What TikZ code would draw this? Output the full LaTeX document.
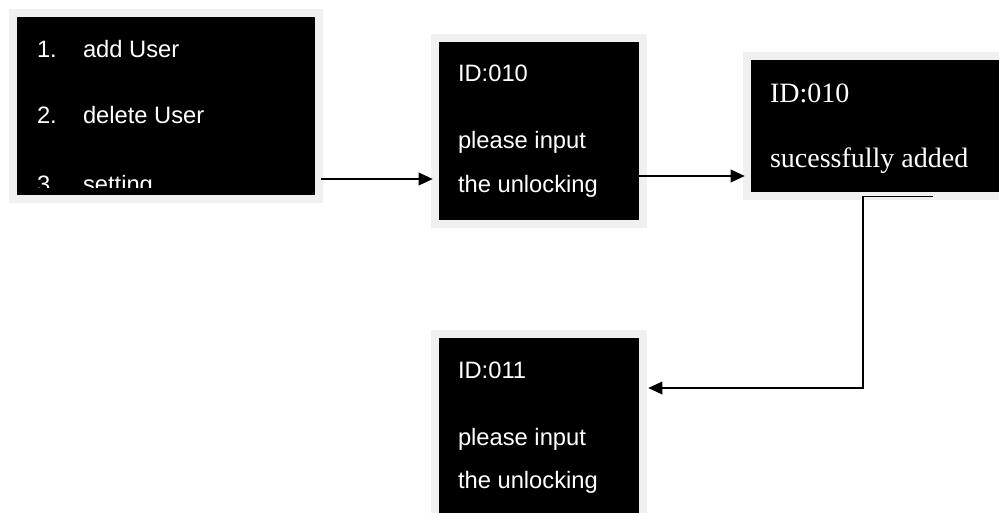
\documentclass[tikz,border=0pt]{standalone}
\usepackage{fontspec}
\newfontfamily\screensans{Liberation Sans}
\newfontfamily\screenserif{Liberation Serif}
\usepackage{xcolor}
\definecolor{framegray}{RGB}{240, 240, 240}
\usepackage{tikz}
\usetikzlibrary{arrows.meta}
\tikzstyle{screen} = [shape=rectangle, fill=black, inner sep=0pt, preaction={draw=framegray, line width=12pt}]
\tikzstyle{sanstext} = [anchor=base west, inner sep=0pt, text=white, font=\screensans\fontsize{17.8}{20}\selectfont]
\tikzstyle{seriftext} = [anchor=base west, inner sep=0pt, text=white, font=\screenserif\fontsize{21}{24}\selectfont]
\tikzstyle{flow} = [line width=1pt, -{Triangle[length=10.5pt, width=9.5pt]}]

\begin{document}
\begin{tikzpicture}[x=0.75pt, y=-0.75pt]
  \useasboundingbox (0,0) rectangle (999,512);

  \node[screen, minimum width=223.5pt, minimum height=133.5pt] (menu) at (166,106) {};
  \node[screen, minimum width=150pt, minimum height=133.5pt] (input1) at (539,131) {};
  \node[screen, minimum width=202.5pt, minimum height=99pt] (added) at (886,126) {};
  \node[screen, minimum width=150pt, minimum height=138pt] (input2) at (539,430) {};

  % menu entries, the last one is cut off
  \begin{scope}
    \clip (menu.north west) rectangle ([yshift=6pt]menu.south east);
    \node[sanstext] (item1) at ([shift={(20,41)}]menu.north west) {1.};
    \node[sanstext] (add) at ([shift={(66,41)}]menu.north west) {add User};
    \node[sanstext] (item2) at ([shift={(20,107)}]menu.north west) {2.};
    \node[sanstext] (delete) at ([shift={(66,107)}]menu.north west) {delete User};
    \node[sanstext] (item3) at ([shift={(20,176)}]menu.north west) {3.};
    \node[sanstext] (setting) at ([shift={(66,176)}]menu.north west) {setting};
  \end{scope}

  \node[sanstext] (id1) at ([shift={(19,40)}]input1.north west) {ID:010};
  \node[sanstext] (please1) at ([shift={(19,107)}]input1.north west) {please input};
  \node[sanstext] (unlock1) at ([shift={(19,151)}]input1.north west) {the unlocking};

  \node[seriftext] (id2) at ([shift={(19,43)}]added.north west) {ID:010};
  \node[seriftext] (done) at ([shift={(19,108)}]added.north west) {sucessfully added};

  \node[sanstext] (id3) at ([shift={(19,41)}]input2.north west) {ID:011};
  \node[sanstext] (please2) at ([shift={(19,108)}]input2.north west) {please input};
  \node[sanstext] (unlock2) at ([shift={(19,151)}]input2.north west) {the unlocking};

  \draw[flow] ([shift={(6,73)}]menu.east) -- ([shift={(-6,48)}]input1.west);
  \draw[flow] ([shift={(0,45)}]input1.east) -- ([shift={(-6,50)}]added.west);
  \draw[flow] ([shift={(47,4)}]added.south) -- ++(-70,0) |- ([shift={(9,-42)}]input2.east);
\end{tikzpicture}
\end{document}
